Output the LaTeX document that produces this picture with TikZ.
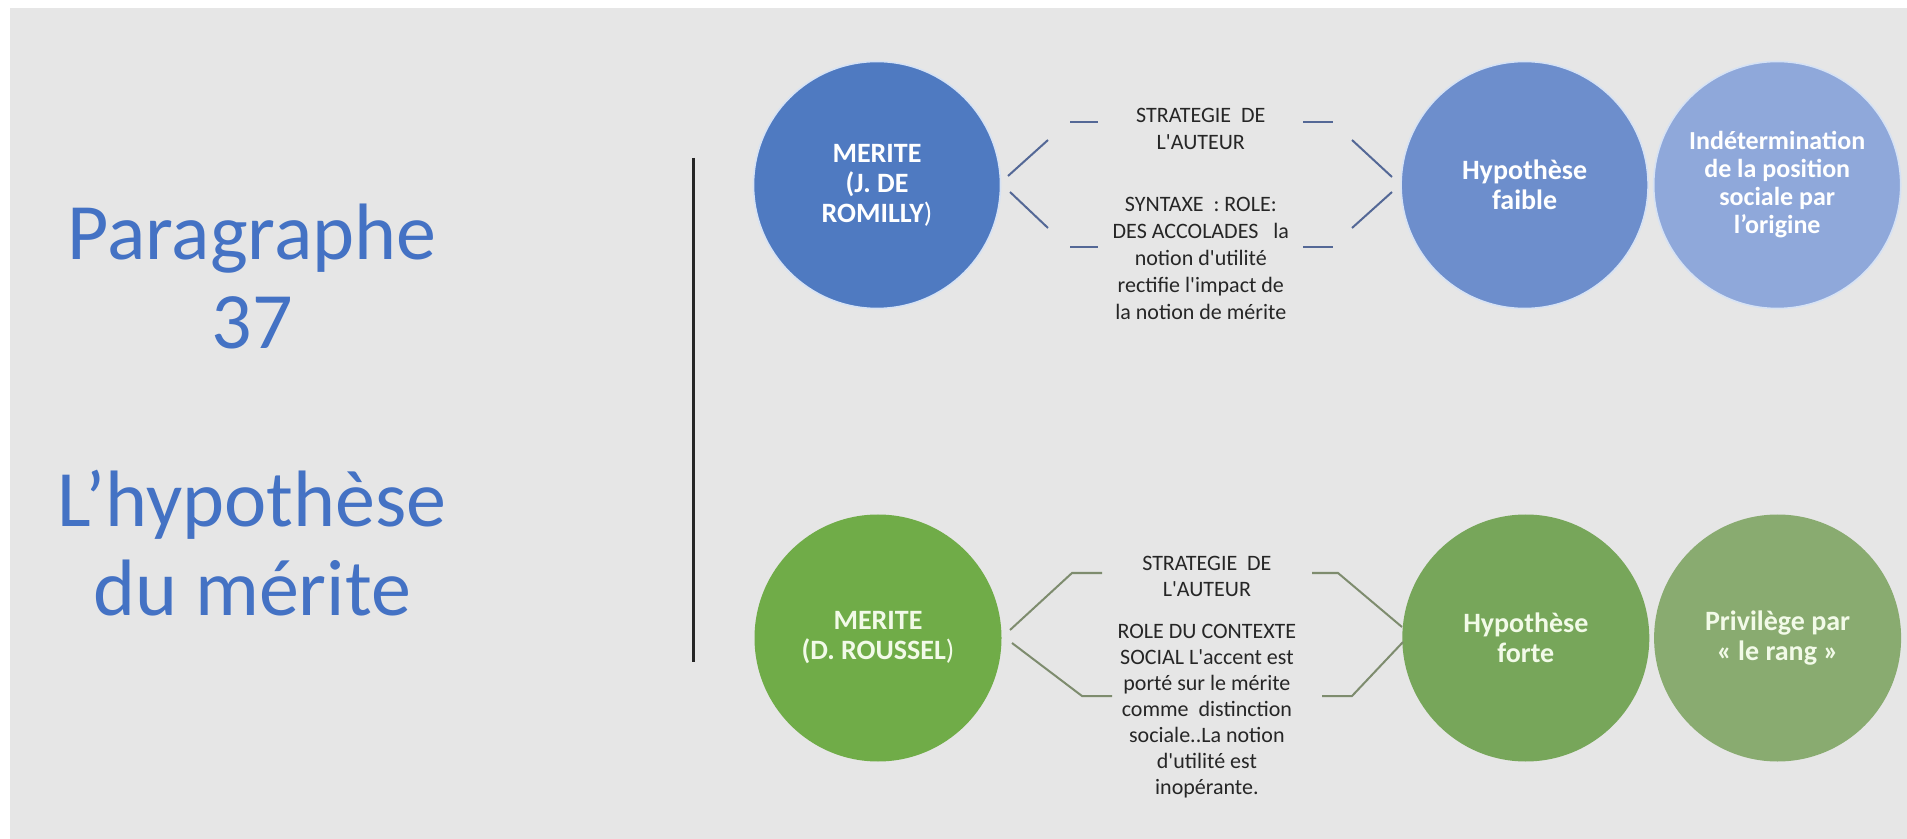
\documentclass[tikz,border=0pt]{standalone}
\usepackage{fontspec}
\setmainfont{Carlito}
\usetikzlibrary{positioning, calc}

\definecolor{slidegray}{RGB}{230,230,230}
\definecolor{titleblue}{RGB}{68,114,196}
\definecolor{blueA}{RGB}{79,122,193}
\definecolor{blueB}{RGB}{109,142,204}
\definecolor{blueC}{RGB}{143,168,218}
\definecolor{blueRim}{RGB}{214,226,244}
\definecolor{greenA}{RGB}{112,172,72}
\definecolor{greenB}{RGB}{119,166,90}
\definecolor{greenC}{RGB}{137,171,112}
\definecolor{greenText}{RGB}{242,250,232}
\definecolor{bracketBlue}{RGB}{84,104,150}
\definecolor{bracketGreen}{RGB}{126,140,110}

\begin{document}
\begin{tikzpicture}[
  x=0.5pt, y=-0.5pt,
  bubble/.style={circle, minimum size=123.5pt, inner sep=0pt, align=center,
                 font=\fontsize{14}{15}\selectfont\bfseries},
  bluebubble/.style={bubble, text=white, draw=blueRim, line width=0.8pt},
  greenbubble/.style={bubble, text=greenText},
  strategy/.style={align=center, text=black!85, font=\fontsize{11}{13.5}\selectfont},
  bracket/.style={line width=1pt},
]
% slide
\useasboundingbox (0,0) rectangle (1907,839);
\fill[white] (0,0) rectangle (1907,839);
\fill[slidegray] (10,8) rectangle (1907,839);

\node[font=\fontsize{40}{44.5}\selectfont, text=titleblue, align=center] (title) at (252,410)
  {Paragraphe\\37\\[44.5pt]L’hypothèse\\du mérite};
\draw[line width=1.5pt, black!85] (693,158) -- (693,662);

% Romilly row
\node[bluebubble, fill=blueA] (merite1) at (877,185)
  {MERITE\\(J. DE\\ROMILLY{\mdseries)}};
\node[bluebubble, fill=blueB, right=199.5pt of merite1] (hyp1) {Hypothèse\\faible};
\node[bluebubble, fill=blueC, right=2pt of hyp1, font=\fontsize{13}{14}\selectfont\bfseries] (indet1)
  {Indétermination\\de la position\\sociale par\\l’origine};
\node[strategy] (strat1) at ($(merite1)!0.5!(hyp1)+(0,29)$)
  {STRATEGIE\ \ DE\\L\textquotesingle AUTEUR\\[17.5pt]
   SYNTAXE\ \ :\ ROLE:\\DES ACCOLADES\ \ \ la\\notion d\textquotesingle utilité\\
   rectifie l\textquotesingle impact de\\la notion de mérite};
\draw[bracket, bracketBlue] (1070,122) -- (1098,122);
\draw[bracket, bracketBlue] (1048,140) -- (1008,176);
\draw[bracket, bracketBlue] (1010,192) -- (1048,228);
\draw[bracket, bracketBlue] (1070,247) -- (1098,247);
\draw[bracket, bracketBlue] (1303,122) -- (1333,122);
\draw[bracket, bracketBlue] (1352,140) -- (1392,177);
\draw[bracket, bracketBlue] (1392,192) -- (1352,228);
\draw[bracket, bracketBlue] (1303,247) -- (1333,247);

% Roussel row
\node[greenbubble, fill=greenA] (merite2) at (878,638)
  {MERITE\\(D. ROUSSEL{\mdseries)}};
\node[greenbubble, fill=greenB, right=200pt of merite2] (hyp2) {Hypothèse\\forte};
\node[greenbubble, fill=greenC, right=2pt of hyp2] (priv2) {Privilège par\\«~le rang~»};
\node[strategy, font=\fontsize{11}{13}\selectfont] (strat2) at ($(merite2)!0.5!(hyp2)+(5,39)$)
  {STRATEGIE\ \ DE\\L\textquotesingle AUTEUR\\[8pt]
   ROLE DU CONTEXTE\\SOCIAL L\textquotesingle accent est\\porté sur le mérite\\
   comme\ \ distinction\\sociale..La notion\\d\textquotesingle utilité est\\inopérante.};
\draw[bracket, bracketGreen] (1102,573) -- (1072,573) -- (1010,630);
\draw[bracket, bracketGreen] (1012,643) -- (1082,696) -- (1112,696);
\draw[bracket, bracketGreen] (1312,573) -- (1338,573) -- (1402,627);
\draw[bracket, bracketGreen] (1403,642) -- (1352,696) -- (1322,696);
\end{tikzpicture}
\end{document}
